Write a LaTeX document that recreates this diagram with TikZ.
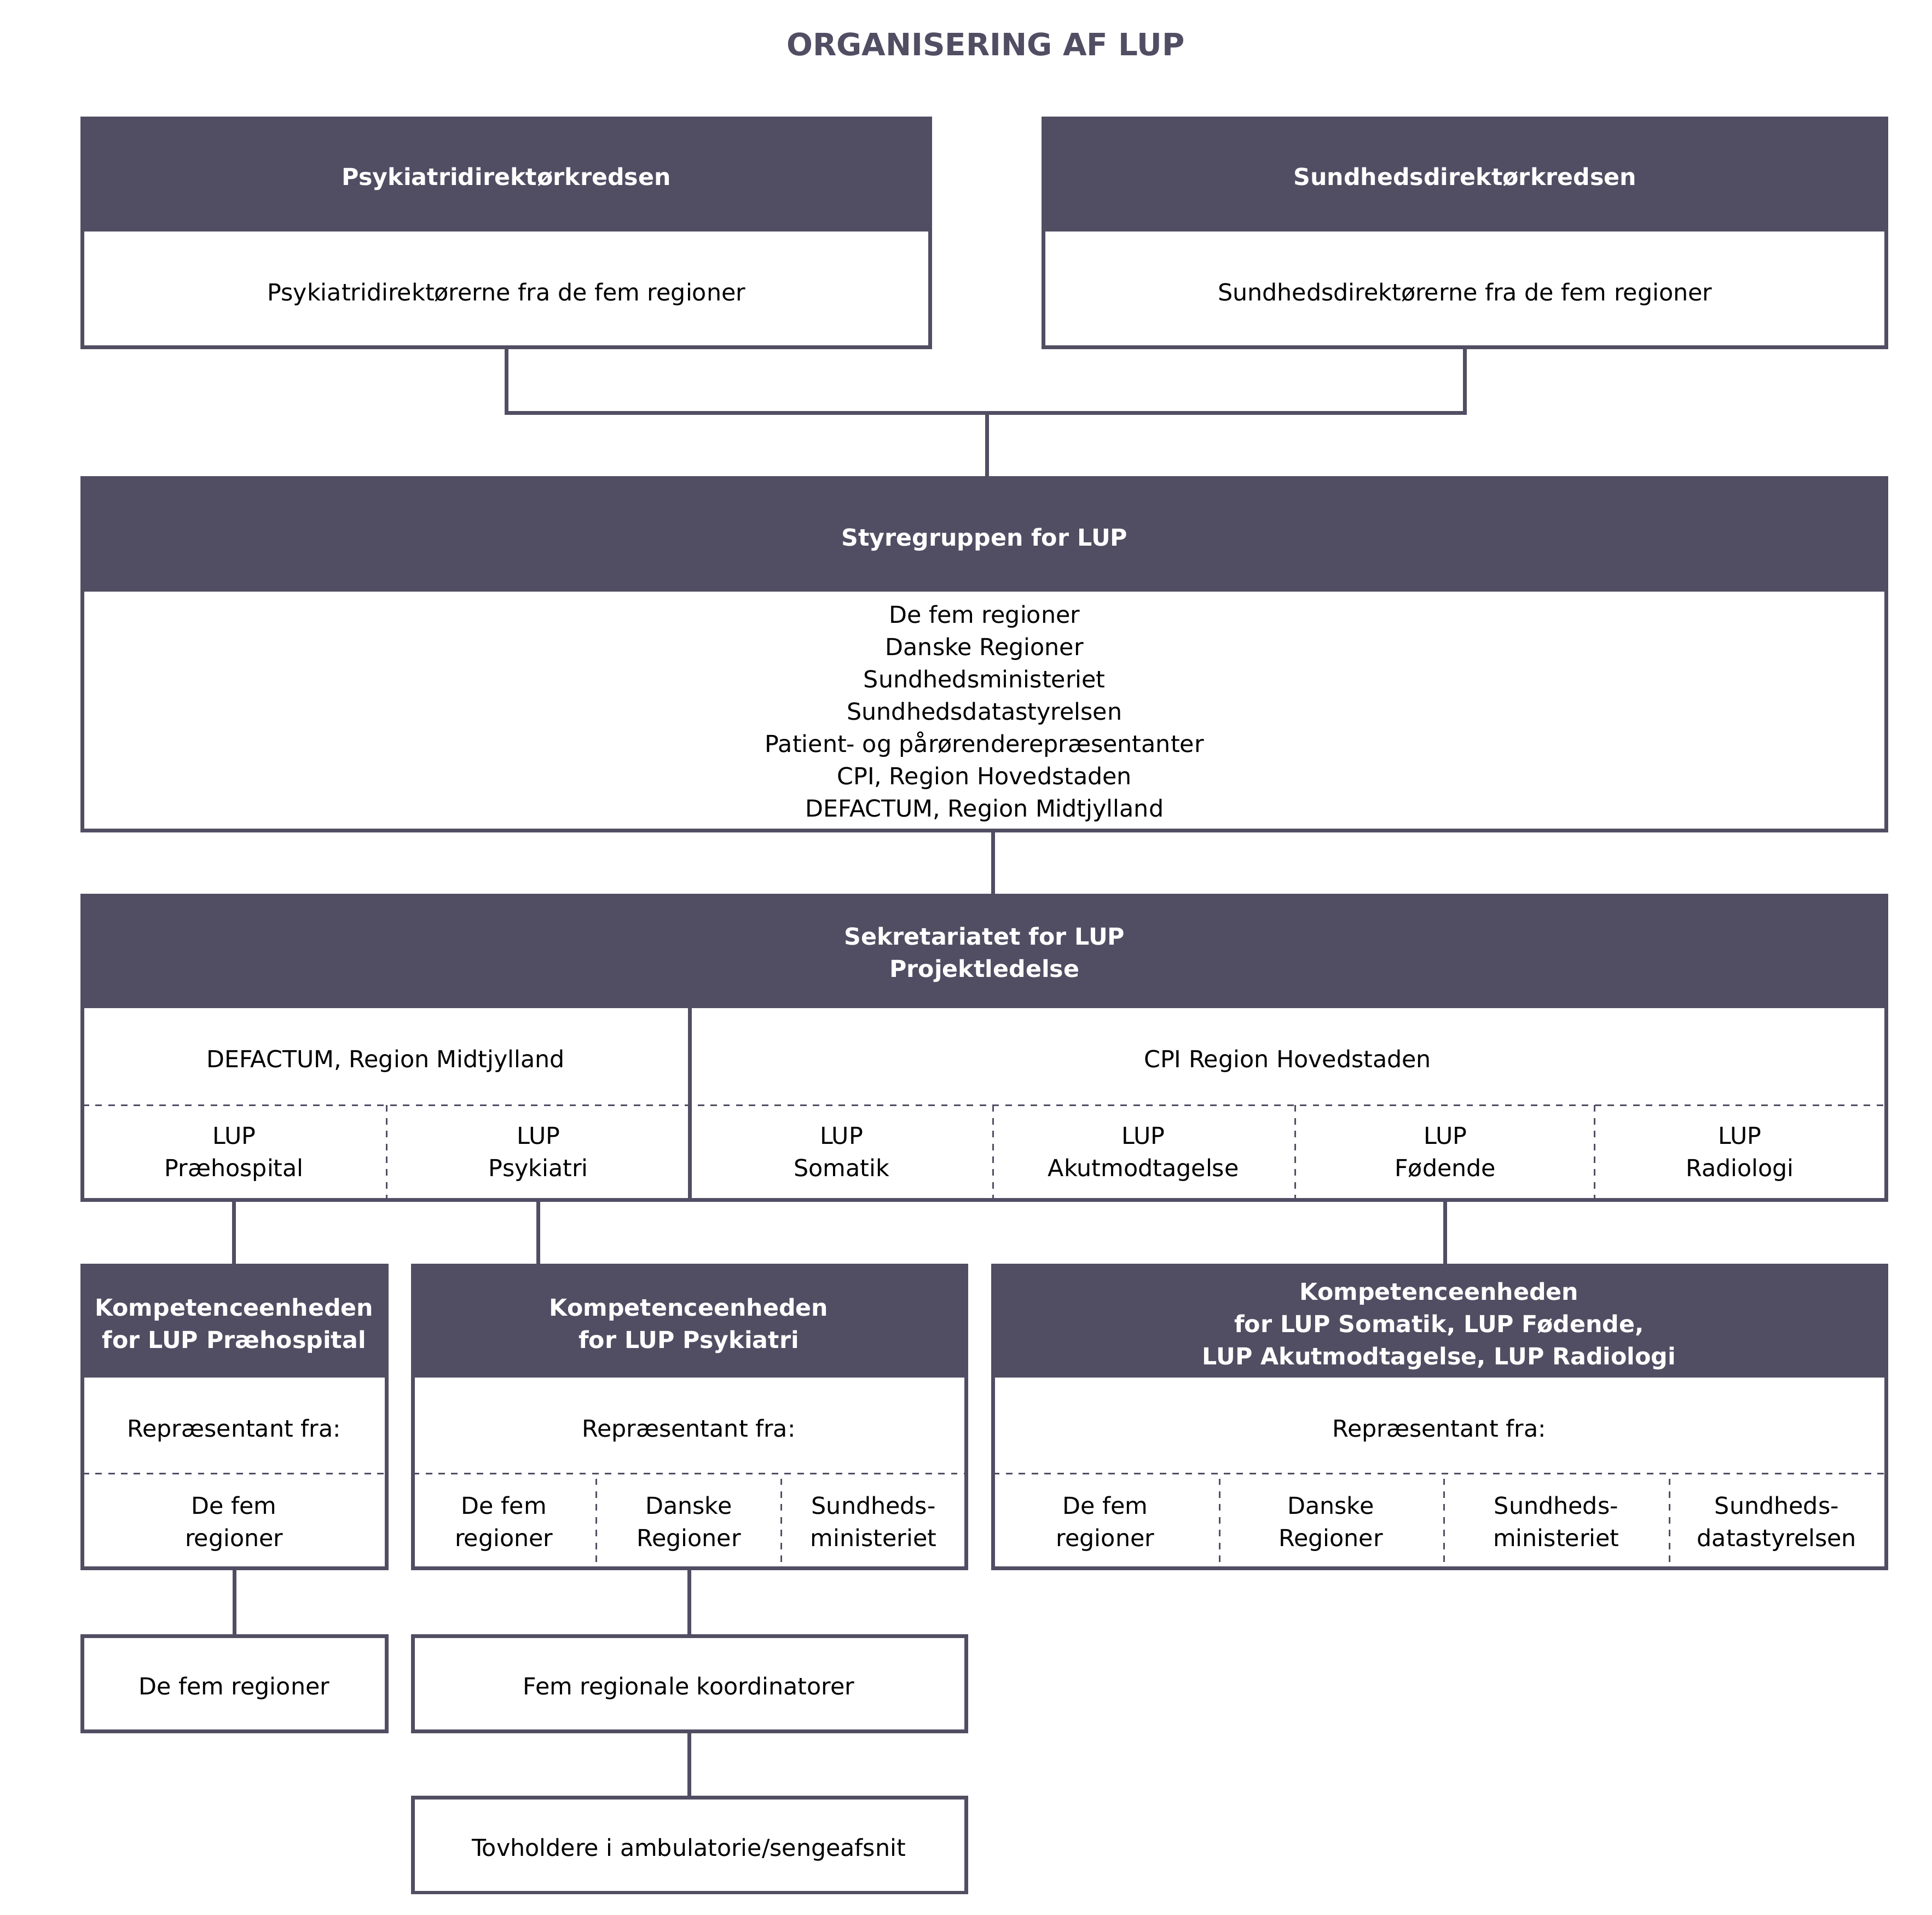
\documentclass[tikz,border=0pt]{standalone}
\usepackage{fontspec}
\setmainfont{DejaVu Sans}
\usetikzlibrary{calc}
\definecolor{dk}{HTML}{514E63}
\newcommand\orgbox[6]{%
  \node[frame, minimum width={#4-#2}, minimum height={#5-#3}] (#1) at (#2,#3) {};
  \fill[dk] (#2,#3) rectangle (#4,#6);}
\newcommand\plainbox[5]{%
  \node[frame, minimum width={#4-#2}, minimum height={#5-#3}] (#1) at (#2,#3) {};}
\begin{document}
\begin{tikzpicture}[x=1pt,y=-1pt,
  frame/.style={draw=dk, line width=3.1pt, fill=white, inner sep=0pt, outer sep=0pt, anchor=north west},
  hdtxt/.style={text=white, font=\bfseries\fontsize{19}{26.2}\selectfont, align=center, inner sep=0pt, yshift=-3pt,
    execute at begin node=\strut, execute at end node=\strut},
  bdtxt/.style={text=black, font=\fontsize{19}{26.2}\selectfont, align=center, inner sep=0pt, yshift=-3pt,
    execute at begin node=\strut, execute at end node=\strut},
  conn/.style={draw=dk, line width=3.1pt},
  dsh/.style={draw=dk, line width=1.4pt, dash pattern=on 5.3pt off 5.1pt},
]
\useasboundingbox (0,0) rectangle (1568,1554.2);

\node[font=\bfseries\fontsize{25}{30}\selectfont, text=dk, inner sep=0pt] (title) at (800,36) {ORGANISERING AF LUP};

% top boxes
\orgbox{psyk}{67}{96}{755}{282}{188}
\node[hdtxt] (psykh) at (411,142) {Psykiatridirektørkredsen};
\node[bdtxt] (psykb) at (411,236) {Psykiatridirektørerne fra de fem regioner};

\orgbox{sund}{847}{96}{1531}{282}{188}
\node[hdtxt] (sundh) at (1189,142) {Sundhedsdirektørkredsen};
\node[bdtxt] (sundb) at (1189,236) {Sundhedsdirektørerne fra de fem regioner};

% Styregruppen
\orgbox{sty}{67}{388}{1531}{674}{480}
\node[hdtxt] (styh) at (799,435) {Styregruppen for LUP};
\node[bdtxt] (styb) at (799,578) {De fem regioner\\Danske Regioner\\Sundhedsministeriet\\Sundhedsdatastyrelsen\\Patient- og pårørenderepræsentanter\\CPI, Region Hovedstaden\\DEFACTUM, Region Midtjylland};

% Sekretariatet
\orgbox{sek}{67}{727}{1531}{974}{818}
\node[hdtxt] (sekh) at (799,773.5) {Sekretariatet for LUP\\Projektledelse};
\draw[dsh] (67,897) -- (1531,897);
\draw[conn] (560,818) -- (560,974);
\foreach \xx in {314,806,1051,1294} {\draw[dsh] (\xx,897) -- (\xx,974);}
\node[bdtxt] (defa) at (313,858) {DEFACTUM, Region Midtjylland};
\node[bdtxt] (cpi) at (1045,858) {CPI Region Hovedstaden};
\node[bdtxt] (lupA) at (190,935.5) {LUP\\Præhospital};
\node[bdtxt] (lupB) at (437,935.5) {LUP\\Psykiatri};
\node[bdtxt] (lupC) at (683,935.5) {LUP\\Somatik};
\node[bdtxt] (lupD) at (928,935.5) {LUP\\Akutmodtagelse};
\node[bdtxt] (lupE) at (1173,935.5) {LUP\\Fødende};
\node[bdtxt] (lupF) at (1412,935.5) {LUP\\Radiologi};

% Kompetenceenheder
\orgbox{keA}{67}{1027}{314}{1273}{1118}
\node[hdtxt] (keAh) at (190,1075) {Kompetenceenheden\\for LUP Præhospital};
\node[bdtxt] (keAr) at (190,1158) {Repræsentant fra:};
\draw[dsh] (67,1196) -- (314,1196);
\node[bdtxt] (keA1) at (190,1235.5) {De fem\\regioner};

\orgbox{keB}{335}{1027}{784}{1273}{1118}
\node[hdtxt] (keBh) at (559,1075) {Kompetenceenheden\\for LUP Psykiatri};
\node[bdtxt] (keBr) at (559,1158) {Repræsentant fra:};
\draw[dsh] (335,1196) -- (784,1196);
\foreach \xx in {484,634} {\draw[dsh] (\xx,1200) -- (\xx,1273);}
\node[bdtxt] (keB1) at (409,1235.5) {De fem\\regioner};
\node[bdtxt] (keB2) at (559,1235.5) {Danske\\Regioner};
\node[bdtxt] (keB3) at (709,1235.5) {Sundheds-\\ministeriet};

\orgbox{keC}{806}{1027}{1531}{1273}{1118}
\node[hdtxt] (keCh) at (1168,1075) {Kompetenceenheden\\for LUP Somatik, LUP Fødende,\\LUP Akutmodtagelse, LUP Radiologi};
\node[bdtxt] (keCr) at (1168,1158) {Repræsentant fra:};
\draw[dsh] (806,1196) -- (1531,1196);
\foreach \xx in {990,1172,1355} {\draw[dsh] (\xx,1200) -- (\xx,1273);}
\node[bdtxt] (keC1) at (897,1235.5) {De fem\\regioner};
\node[bdtxt] (keC2) at (1080,1235.5) {Danske\\Regioner};
\node[bdtxt] (keC3) at (1263,1235.5) {Sundheds-\\ministeriet};
\node[bdtxt] (keC4) at (1442,1235.5) {Sundheds-\\datastyrelsen};

% bottom boxes
\plainbox{dA}{67}{1328}{314}{1405}
\node[bdtxt] (dAt) at (190,1367) {De fem regioner};
\plainbox{dB}{335}{1328}{784}{1405}
\node[bdtxt] (dBt) at (559,1367) {Fem regionale koordinatorer};
\plainbox{dC}{335}{1459}{784}{1536}
\node[bdtxt] (dCt) at (559,1498) {Tovholdere i ambulatorie/sengeafsnit};

% connectors
\coordinate (jm) at ($(sty.north)+(2,-53)$);
\draw[conn] (psyk.south) |- (jm) -| (sund.south);
\draw[conn] (jm) -- (jm |- sty.north);
\coordinate (c1) at (806,674);
\draw[conn] (c1) -- (c1 |- sek.north);
\draw[conn] (lupA |- sek.south) -- (lupA |- keA.north);
\draw[conn] (lupB |- sek.south) -- (lupB |- keB.north);
\draw[conn] (lupE |- sek.south) -- (lupE |- keC.north);
\draw[conn] (keA.south) -- (dA.north);
\draw[conn] (keB.south) -- (dB.north);
\draw[conn] (dB.south) -- (dC.north);
\end{tikzpicture}
\end{document}
